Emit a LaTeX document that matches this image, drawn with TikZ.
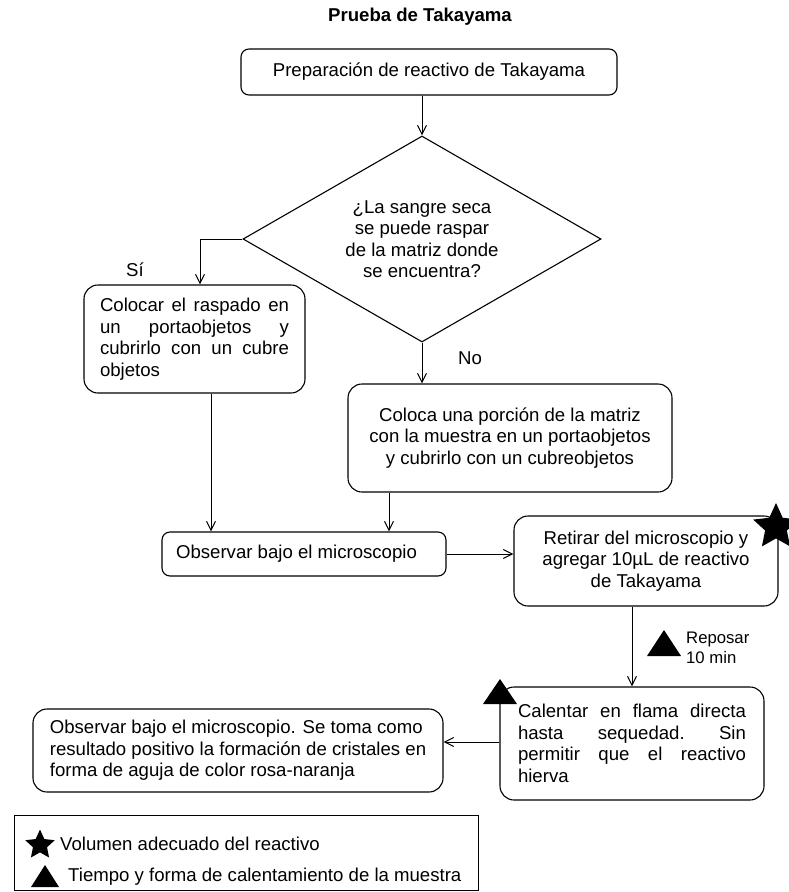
\documentclass[tikz,border=0pt]{standalone}
\usepackage{fontspec}
\setmainfont{Liberation Sans}
\usetikzlibrary{shapes.geometric,arrows.meta}
\begin{document}
\begin{tikzpicture}[x=1pt,y=-1pt,
  every node/.style={inner sep=0pt, font=\fontsize{18.6}{21.5}\selectfont},
  box/.style={draw, line width=1.1pt, rounded corners=14pt},
  smallbox/.style={box, rounded corners=8pt},
  arr/.style={-{Straight Barb[length=9pt,width=9pt]}, line width=1pt},
  blackmark/.style={fill=black}]
\useasboundingbox (0,0) rectangle (788,892);
\fill[white] (0,0) rectangle (788,892);

\node[font=\bfseries\fontsize{18.6}{21.5}\selectfont] (title) at (420,17) {Prueba de Takayama};

\node[smallbox, minimum width=376pt, minimum height=46pt] (prep) at (429,72) {Preparación de reactivo de Takayama};

\node[draw, line width=1.1pt, diamond, aspect=1.74, minimum width=358pt, minimum height=206pt, align=center] (q) at (422,239)
  {¿La sangre seca\\se puede raspar\\de la matriz donde\\se encuentra?};

\node[box, minimum width=221pt, minimum height=108pt, align=left] (lb) at (194.5,339)
  {\makebox[189pt][s]{Colocar el raspado en}\\\makebox[189pt][s]{un portaobjetos y}\\\makebox[189pt][s]{cubrirlo con un cubre}\\objetos};

\node[box, minimum width=324pt, minimum height=108pt, align=center] (mb) at (510,438)
  {Coloca una porción de la matriz\\con la muestra en un portaobjetos\\y cubrirlo con un cubreobjetos};

\node[smallbox, minimum width=284pt, minimum height=44pt] (obs) at (304,554) {Observar bajo el microscopio\hspace*{15pt}};

\node[box, minimum width=264pt, minimum height=90pt, align=center] (ret) at (646,561)
  {Retirar del microscopio y\\agregar 10µL de reactivo\\de Takayama};

\node[box, minimum width=264pt, minimum height=113pt, align=left] (cal) at (632,743.5)
  {\makebox[228pt][s]{Calentar en flama directa}\\\makebox[228pt][s]{hasta sequedad.\ Sin}\\\makebox[228pt][s]{permitir que el reactivo}\\hierva};

\node[box, minimum width=410pt, minimum height=83pt, align=left] (fin) at (238,750.5)
  {Observar bajo el microscopio. Se toma como\\resultado positivo la formación de cristales en\\forma de aguja de color rosa-naranja};

\node[draw, line width=1pt, minimum width=464pt, minimum height=75pt] (leg) at (246,852.5) {};

% markers
\node[star, star points=5, star point ratio=2.1, blackmark, minimum size=48pt] (s1) at (776,527) {};
\node[star, star points=5, star point ratio=2.1, blackmark, minimum size=31pt] (s2) at (40,845) {};
\fill (664,630) -- (681,656) -- (647,656) -- cycle;
\fill (500,679) -- (517,704) -- (483,704) -- cycle;
\fill (45,865) -- (59,887) -- (31,887) -- cycle;

% labels
\node (si) at (135,270) {Sí};
\node (no) at (470,358) {No};
\node[anchor=west, align=left, font=\fontsize{16.7}{20}\selectfont] (rep) at (686,648) {Reposar\\10 min};
\node[anchor=west] (l1) at (60,844) {Volumen adecuado del reactivo};
\node[anchor=west] (l2) at (68,877) {Tiempo y forma de calentamiento de la muestra};

% connectors
\draw[arr] (q.north |- prep.south) -- (q.north);
\draw[arr] (q.west) -| ([xshift=5.5pt]lb.north);
\draw[arr] (q.south) -- (q.south |- mb.north);
\draw[arr] ([xshift=16.5pt]lb.south) -- ([xshift=16.5pt]lb.south |- obs.north);
\draw[arr] ([xshift=-121pt]mb.south) -- ([xshift=-121pt]mb.south |- obs.north);
\draw[arr] (obs.east) -- (obs.east -| ret.west);
\draw[arr] ([xshift=-14pt]ret.south) -- ([xshift=-14pt]ret.south |- cal.north);
\draw[arr] ([yshift=1.5pt]cal.west) -- ([yshift=1.5pt]cal.west -| fin.east);
\end{tikzpicture}
\end{document}
